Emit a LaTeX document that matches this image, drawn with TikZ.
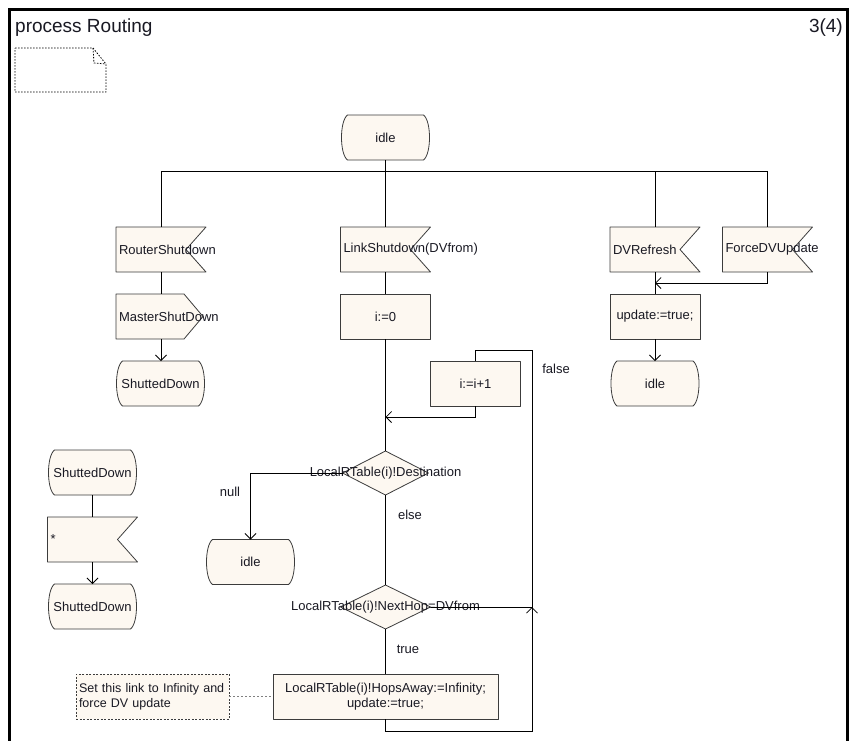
\documentclass[tikz,border=0pt]{standalone}
\usepackage{fontspec}
\setmainfont{Liberation Sans}
\usetikzlibrary{arrows.meta,backgrounds}
\definecolor{cream}{RGB}{253,248,241}
\definecolor{bord}{RGB}{60,60,60}
\definecolor{txt}{RGB}{25,25,35}
\tikzset{
  every node/.style={font=\fontsize{13}{15}\selectfont, text=txt},
  base/.style={minimum width=90pt, minimum height=45pt, inner xsep=3pt, inner ysep=0pt, outer sep=0pt},
  statebox/.style={base, align=center},
  sigbox/.style={base},
  taskbox/.style={base, align=center},
  decbox/.style={base, minimum width=86pt, minimum height=44pt, inner sep=0pt},
  outline/.style={draw=bord, fill=cream, line width=0.8pt, line join=round},
  conn/.style={draw=black, line width=0.8pt},
  arr/.style={conn, -{Straight Barb[length=5.5pt,width=11pt]}},
  lbl/.style={inner sep=0pt},
  notebox/.style={draw=bord, dash pattern=on 2pt off 1.5pt, fill=cream, line width=0.8pt,
                  font=\fontsize{12.5}{15}\selectfont,
                  text width=147pt, inner sep=3pt, align=left, minimum height=45pt},
  notelink/.style={draw=gray, line width=1pt, dash pattern=on 2pt off 2pt},
  docsym/.style={draw=black, line width=0.8pt, dash pattern=on 1.5pt off 1.5pt},
  framel/.style={draw=black, line width=3pt},
  headtxt/.style={inner sep=0pt, font=\fontsize{19}{22}\selectfont}
}
\begin{document}
\begin{tikzpicture}[x=1pt,y=-1pt]
\useasboundingbox (0,0) rectangle (849,740);
% frame
\draw[framel] (9,745) -- (9,9) -- (847.5,9) -- (847.5,745);
\node[headtxt, anchor=base west] (title) at (15,32) {process Routing};
\node[headtxt, anchor=base east] (pagenum) at (843,32) {3(4)};
% document symbol
\draw[docsym] (15,48) -- (93,48) -- (106,64) -- (106,92) -- (15,92) -- cycle;
\draw[docsym] (93,48) -- (94,63) -- (106,64);

% nodes
\node[statebox] (idle1) at (385.5,137.5) {idle};
\node[sigbox] (rs) at (161,249.5) {\makebox[84pt][l]{RouterShutdown}};
\node[sigbox] (ls) at (385.5,249.5) {\makebox[84pt][l]{LinkShutdown(DVfrom)}};
\node[sigbox] (dv) at (655,249.5) {\makebox[84pt][l]{DVRefresh}};
\node[sigbox] (fdv) at (767.5,249.5) {\makebox[84pt][l]{ForceDVUpdate}};

\node[sigbox] (ms) at (161,316.5) {\makebox[84pt][l]{MasterShutDown}};
\node[statebox] (sd1) at (160.5,383.5) {ShuttedDown};

\node[taskbox] (i0) at (385.5,316.5) {i:=0};
\node[taskbox] (inc) at (475.5,383.5) {i:=i+1};
\node[decbox] (d1) at (385.5,473) {\makebox[0pt]{LocalRTable(i)!Destination}};
\node[statebox] (idle2) at (250.5,562) {idle};
\node[decbox, minimum width=90pt] (d2) at (385.5,607) {\makebox[0pt]{LocalRTable(i)!NextHop=DVfrom}};
\node[taskbox, minimum width=225pt] (act) at (385.5,696.5) {LocalRTable(i)!HopsAway:=Infinity;\\update:=true;};
\node[notebox] (note) at (152.5,696.5) {\mbox{Set this link to Infinity and}\\force DV update};

\node[taskbox] (upd) at (655,316.5) {update:=true;};
\node[statebox] (idle3) at (655,383.5) {idle};

\node[statebox] (sd2) at (92.5,472.5) {ShuttedDown};
\node[sigbox] (star) at (92.5,539.5) {\makebox[84pt][l]{*}};
\node[statebox] (sd3) at (92.5,606.5) {ShuttedDown};

% labels
\node[lbl] (lfalse) at (556,369) {false};
\node[lbl] (lnull) at (230,492) {null};
\node[lbl] (lelse) at (410,515) {else};
\node[lbl] (ltrue) at (408,649) {true};

% shapes on background
\begin{pgfonlayer}{background}
\fill[white] (0,0) rectangle (849,740);
\foreach \n in {idle1,sd1,idle2,idle3,sd2,sd3}{
  \path[outline] ([xshift=7pt]\n.north west) -- ([xshift=-7pt]\n.north east)
    .. controls ([xshift=1pt,yshift=-6pt]\n.north east) and ([xshift=1pt,yshift=6pt]\n.south east) .. ([xshift=-7pt]\n.south east)
    -- ([xshift=7pt]\n.south west)
    .. controls ([xshift=-1pt,yshift=6pt]\n.south west) and ([xshift=-1pt,yshift=-6pt]\n.north west) .. ([xshift=7pt]\n.north west) -- cycle;
}
\foreach \n in {rs,ls,dv,fdv,star}{
  \path[outline] (\n.north west) -- (\n.north east) -- ([xshift=-20pt]\n.east) -- (\n.south east) -- (\n.south west) -- cycle;
}
\path[outline] (ms.north west) -- ([xshift=-22pt]ms.north east) -- ([xshift=-3pt]ms.east) -- ([xshift=-22pt]ms.south east) -- (ms.south west) -- cycle;
\foreach \n in {i0,inc,act,upd}{
  \path[outline] (\n.north west) rectangle (\n.south east);
}
\foreach \n in {d1,d2}{
  \path[outline] (\n.north) -- (\n.east) -- (\n.south) -- (\n.west) -- cycle;
}
\end{pgfonlayer}

% coordinates
\coordinate (hl) at (161,171);
\coordinate (dj) at (655,283);
\coordinate (mj) at (385.5,417);
\coordinate (lb) at (532,731);
\coordinate (ltop) at (532,350);
\coordinate (jn) at (532,607);

% connectors
\draw[conn] (idle1.south) -- (ls.north);
\draw[conn] (rs.north) -- (rs.north |- hl) -- (fdv.north |- hl) -- (fdv.north);
\draw[conn] (dv.north) -- (dv.north |- hl);
\draw[conn] (rs.south) -- (ms.north);
\draw[arr] (ms.south) -- (sd1.north -| ms.south);
\draw[conn] (ls.south) -- (i0.north);
\draw[conn] (i0.south) -- (d1.north);
\draw[arr] (inc.south) |- (mj);
\draw[arr] (d1.west) -| (idle2.north);
\draw[conn] (d1.south) -- (d2.north);
\draw[conn] (d2.south) -- (act.south |- d2.south) -- (act.north);
\draw[conn] (act.south) -- (act.south |- lb) -- (lb) -- (ltop) -- (inc.north |- ltop) -- (inc.north);
\draw[conn] (d2.east) -- (jn);
\draw[arr] ([yshift=-4pt]jn) -- (jn);
\draw[notelink] (note.east) -- (act.west);
\draw[conn] (dv.south) -- (upd.north);
\draw[arr] (fdv.south) |- (dj);
\draw[arr] (upd.south) -- (idle3.north);
\draw[conn] (sd2.south) -- (star.north);
\draw[arr] (star.south) -- (sd3.north);
\end{tikzpicture}
\end{document}
